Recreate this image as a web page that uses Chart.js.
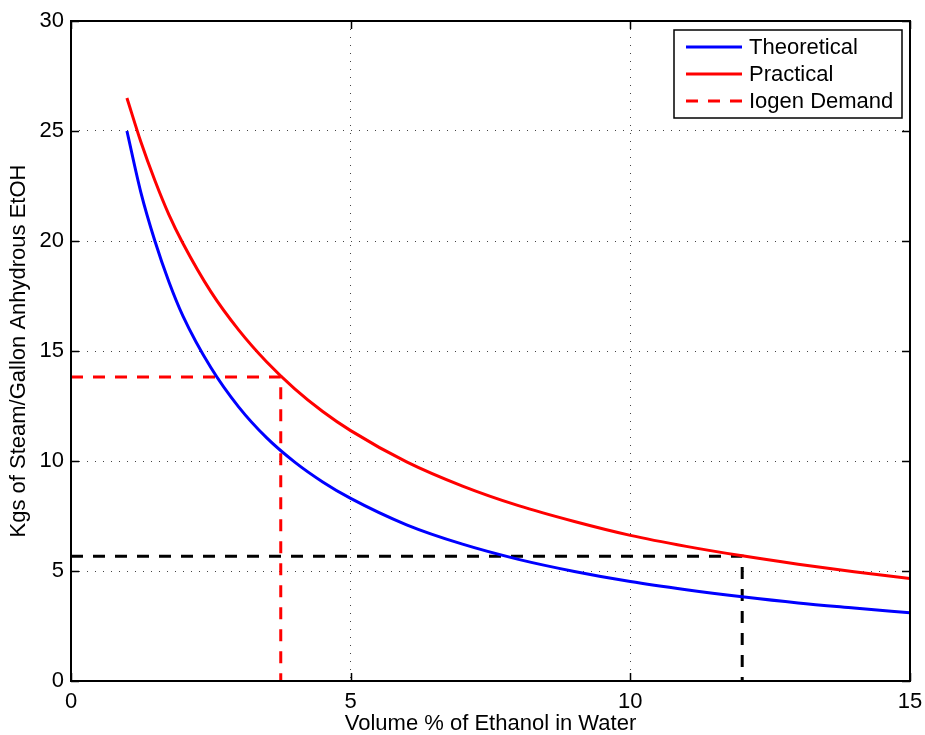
<!DOCTYPE html>
<html>
<head>
<meta charset="utf-8">
<script src="https://cdn.jsdelivr.net/npm/chart.js@4/dist/chart.umd.min.js"></script>
<style>
  html, body { margin: 0; padding: 0; background: #fff; }
  canvas { display: block; }
</style>
</head>
<body>
<canvas id="chart" width="925" height="735"></canvas>
<script>
"use strict";

// Values (volume % -> kg steam / gal)
const volumeX = [1, 1.25, 1.5, 1.75, 2, 2.5, 3, 3.5, 4, 4.5, 5, 6, 7, 8, 9, 10, 11, 12, 13, 14, 15];
const theoreticalY = [25.0, 22.2, 20.0, 18.15, 16.6, 14.25, 12.45, 11.05, 9.95, 9.05, 8.3, 7.1, 6.22, 5.53, 4.98, 4.52, 4.15, 3.83, 3.55, 3.32, 3.1];
const practicalY = [26.5, 24.5, 22.75, 21.2, 19.9, 17.7, 15.95, 14.5, 13.28, 12.25, 11.38, 9.96, 8.86, 7.97, 7.25, 6.62, 6.12, 5.69, 5.31, 4.97, 4.66];

// Iogen demand guide (red) and practical-curve guide (black)
const iogenX = [0, 3.75, 3.75];
const iogenY = [13.82, 13.82, 0];
const guideX = [0, 12, 12];
const guideY = [5.67, 5.67, 0];

const xTicks = [0, 5, 10, 15];
const yTicks = [0, 5, 10, 15, 20, 25, 30];

const seriesLabels = ["Theoretical", "Practical", "Iogen Demand"];

const FONT = "'Liberation Sans', Arial, Helvetica, sans-serif";
const FONT_SIZE = 22;

const toPoints = (xs, ys) => xs.map((x, i) => ({ x, y: ys[i] }));

// Box, inward tick marks and legend, drawn MATLAB style
const framePlugin = {
    id: "frame",
    afterDatasetsDraw(chart) {
        const { ctx, chartArea: a, scales } = chart;
        const tick = 8;
        ctx.save();
        ctx.strokeStyle = "#000";
        ctx.lineWidth = 1.5;
        scales.x.ticks.forEach((t) => {
            const px = Math.round(scales.x.getPixelForValue(t.value)) + 0.5;
            ctx.beginPath();
            ctx.moveTo(px, a.bottom);
            ctx.lineTo(px, a.bottom - tick);
            ctx.moveTo(px, a.top);
            ctx.lineTo(px, a.top + tick);
            ctx.stroke();
        });
        scales.y.ticks.forEach((t) => {
            const py = Math.round(scales.y.getPixelForValue(t.value)) + 0.5;
            ctx.beginPath();
            ctx.moveTo(a.left, py);
            ctx.lineTo(a.left + tick, py);
            ctx.moveTo(a.right, py);
            ctx.lineTo(a.right - tick, py);
            ctx.stroke();
        });
        ctx.lineWidth = 2;
        ctx.strokeRect(a.left, a.top, a.right - a.left, a.bottom - a.top);

        // legend
        const boxL = a.right - 236, boxT = a.top + 9, boxW = 228, boxH = 88;
        ctx.fillStyle = "#fff";
        ctx.fillRect(boxL, boxT, boxW, boxH);
        ctx.lineWidth = 1.5;
        ctx.strokeRect(boxL, boxT, boxW, boxH);
        ctx.font = FONT_SIZE + "px " + FONT;
        ctx.textBaseline = "middle";
        ctx.textAlign = "left";
        chart.data.datasets
            .filter((ds) => ds.inLegend)
            .forEach((ds, i) => {
                const y = boxT + 17 + i * 27;
                ctx.beginPath();
                ctx.strokeStyle = ds.borderColor;
                ctx.lineWidth = ds.borderWidth;
                ctx.setLineDash(ds.borderDash || []);
                ctx.moveTo(boxL + 12, y);
                ctx.lineTo(boxL + 68, y);
                ctx.stroke();
                ctx.setLineDash([]);
                ctx.fillStyle = "#000";
                ctx.fillText(ds.label, boxL + 75, y + 1);
            });
        ctx.restore();
    },
};

const axisTicks = (values) => ({
    afterBuildTicks: (scale) => {
        scale.ticks = values.map((v) => ({ value: v }));
    },
});

new Chart(document.getElementById("chart"), {
    type: "scatter",
    data: {
        datasets: [
            {
                label: seriesLabels[0],
                data: toPoints(volumeX, theoreticalY),
                borderColor: "#0000ff",
                borderWidth: 3,
                showLine: true,
                pointRadius: 0,
                cubicInterpolationMode: "monotone",
                inLegend: true,
            },
            {
                label: seriesLabels[1],
                data: toPoints(volumeX, practicalY),
                borderColor: "#ff0000",
                borderWidth: 3,
                showLine: true,
                pointRadius: 0,
                cubicInterpolationMode: "monotone",
                inLegend: true,
            },
            {
                label: seriesLabels[2],
                data: toPoints(iogenX, iogenY),
                borderColor: "#ff0000",
                borderWidth: 3,
                borderDash: [12, 10],
                showLine: true,
                pointRadius: 0,
                tension: 0,
                inLegend: true,
            },
            {
                label: "",
                data: toPoints(guideX, guideY),
                borderColor: "#000000",
                borderWidth: 3,
                borderDash: [12, 10],
                showLine: true,
                pointRadius: 0,
                tension: 0,
                inLegend: false,
            },
        ],
    },
    options: {
        responsive: false,
        animation: false,
        layout: {
            padding: { top: 21, right: 15, bottom: 0, left: 0 },
        },
        plugins: {
            legend: { display: false },
            tooltip: { enabled: false },
        },
        scales: {
            x: {
                type: "linear",
                min: 0,
                max: 15,
                ...axisTicks(xTicks),
                afterFit: (scale) => { scale.height = 54; },
                ticks: {
                    color: "#000",
                    padding: 2,
                    font: { family: FONT, size: FONT_SIZE, lineHeight: 1.7 },
                },
                grid: { color: "#444", lineWidth: 1, drawTicks: false },
                border: { display: false, dash: [1, 7] },
                title: {
                    display: true,
                    text: "Volume % of Ethanol in Water",
                    color: "#000",
                    padding: { top: 0, bottom: 0 },
                    font: { family: FONT, size: FONT_SIZE, lineHeight: 1.05 },
                },
            },
            y: {
                type: "linear",
                min: 0,
                max: 30,
                ...axisTicks(yTicks),
                afterFit: (scale) => { scale.width = 71; },
                ticks: {
                    color: "#000",
                    padding: 7,
                    font: { family: FONT, size: FONT_SIZE },
                },
                grid: { color: "#444", lineWidth: 1, drawTicks: false },
                border: { display: false, dash: [1, 7] },
                title: {
                    display: true,
                    text: "Kgs of Steam/Gallon Anhydrous EtOH",
                    color: "#000",
                    padding: { top: 6, bottom: 0 },
                    font: { family: FONT, size: FONT_SIZE },
                },
            },
        },
    },
    plugins: [framePlugin],
});
</script>
</body>
</html>
